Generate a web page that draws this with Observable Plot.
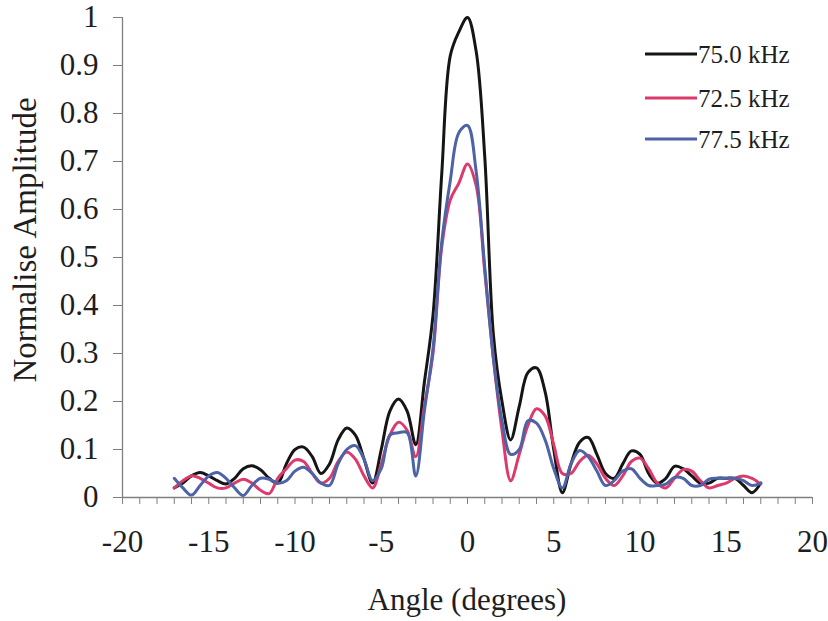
<!DOCTYPE html>
<html><head><meta charset="utf-8">
<script src="https://cdn.jsdelivr.net/npm/d3@7"></script>
<script src="https://cdn.jsdelivr.net/npm/@observablehq/plot@0.6"></script>
<style>
html,body{margin:0;padding:0;background:#fff;}
#chart{position:relative;width:828px;height:621px;}
</style></head><body><div id="chart"></div>
<script>
const angles = [-17,-16.5,-16,-15.5,-15,-14.5,-14,-13.5,-13,-12.5,-12,-11.5,-11,-10.5,-10,-9.5,-9,-8.5,-8,-7.5,-7,-6.5,-6,-5.5,-5,-4.5,-4,-3.5,-3,-2.5,-2,-1.5,-1,-0.5,0,0.5,1,1.5,2,2.5,3,3.5,4,4.5,5,5.5,6,6.5,7,7.5,8,8.5,9,9.5,10,10.5,11,11.5,12,12.5,13,13.5,14,14.5,15,15.5,16,16.5,17];
const amp750 = [0.02,0.03,0.045,0.052,0.045,0.035,0.028,0.04,0.06,0.066,0.058,0.04,0.03,0.07,0.1,0.105,0.085,0.05,0.07,0.12,0.145,0.13,0.08,0.03,0.1,0.18,0.205,0.18,0.11,0.24,0.38,0.67,0.92,0.97,1.0,0.93,0.71,0.34,0.2,0.12,0.19,0.26,0.27,0.22,0.1,0.01,0.07,0.115,0.125,0.09,0.05,0.04,0.07,0.097,0.09,0.05,0.03,0.04,0.065,0.06,0.045,0.03,0.03,0.04,0.04,0.04,0.025,0.01,0.03];
const amp725 = [0.02,0.035,0.045,0.04,0.03,0.02,0.02,0.03,0.038,0.03,0.015,0.008,0.04,0.06,0.078,0.075,0.05,0.03,0.04,0.075,0.095,0.08,0.045,0.02,0.07,0.13,0.157,0.14,0.085,0.19,0.3,0.52,0.62,0.655,0.695,0.65,0.47,0.29,0.14,0.035,0.09,0.15,0.185,0.17,0.11,0.05,0.05,0.075,0.088,0.07,0.04,0.025,0.045,0.075,0.082,0.06,0.03,0.02,0.04,0.058,0.055,0.035,0.02,0.025,0.03,0.04,0.045,0.04,0.028];
const amp775 = [0.04,0.02,0.005,0.025,0.045,0.052,0.04,0.02,0.004,0.025,0.04,0.038,0.03,0.035,0.055,0.063,0.05,0.03,0.025,0.07,0.1,0.108,0.08,0.035,0.06,0.13,0.135,0.135,0.045,0.18,0.31,0.53,0.66,0.76,0.775,0.68,0.48,0.29,0.16,0.09,0.1,0.16,0.155,0.12,0.06,0.02,0.07,0.098,0.085,0.055,0.025,0.035,0.055,0.06,0.04,0.025,0.025,0.028,0.042,0.04,0.025,0.025,0.038,0.04,0.04,0.04,0.035,0.025,0.03];
const seriesNames = ["75.0 kHz", "72.5 kHz", "77.5 kHz"];
const seriesColors = ["#151515", "#dc3a6c", "#4d63a6"];
const xTicks = [-20,-19,-18,-17,-16,-15,-14,-13,-12,-11,-10,-9,-8,-7,-6,-5,-4,-3,-2,-1,0,1,2,3,4,5,6,7,8,9,10,11,12,13,14,15,16,17,18,19,20];
const xLabels = [-20,-15,-10,-5,0,5,10,15,20];
const yTicks = [0,0.1,0.2,0.3,0.4,0.5,0.6,0.7,0.8,0.9,1];
const xTitle = "Angle (degrees)";
const yTitle = "Normalise Amplitude";

const seriesValues = [amp750, amp725, amp775];
const rows = [];
seriesNames.forEach((s, i) => angles.forEach((a, j) => rows.push({series: s, angle: a, amp: seriesValues[i][j]})));

const W = 828, H = 621;
const FONT = "'Liberation Serif', 'Times New Roman', serif";
const plot = Plot.plot({
  width: W, height: H,
  marginLeft: 122, marginRight: 16, marginTop: 17, marginBottom: 124,
  style: {fontFamily: FONT, fontSize: "31px", color: "#1e1e1e", background: "#fff"},
  x: {domain: [-20, 20]},
  y: {domain: [0, 1]},
  color: {domain: seriesNames, range: seriesColors},
  marks: [
    Plot.ruleY([0], {stroke: "#808080", strokeWidth: 1.3}),
    Plot.ruleX([-20], {stroke: "#808080", strokeWidth: 1.3}),
    Plot.axisX({ticks: xTicks, tickFormat: d => xLabels.includes(d) ? String(d) : "", tickSize: 7, tickPadding: 25, stroke: "#808080", label: null}),
    Plot.axisY({ticks: yTicks, tickFormat: d => String(d), tickSize: 9, tickPadding: 15, stroke: "#808080", label: null}),
    Plot.line(rows, {x: "angle", y: "amp", z: "series", stroke: "series", strokeWidth: 3, strokeLinejoin: "round", curve: "catmull-rom"})
  ]
});
document.getElementById("chart").appendChild(plot);

const svg = d3.select(plot);
svg.append("text").attr("x", 467).attr("y", 610).attr("text-anchor", "middle")
  .attr("font-size", 31).attr("fill", "#1e1e1e").text(xTitle);
svg.append("text").attr("transform", "translate(36,240) rotate(-90)").attr("text-anchor", "middle")
  .attr("font-size", 33).attr("fill", "#1e1e1e").text(yTitle);

const legendY = [54, 98, 139];
const lg = svg.append("g").attr("class", "legend").attr("text-anchor", "start");
seriesNames.forEach((s, i) => {
  lg.append("line").attr("x1", 645).attr("x2", 697).attr("y1", legendY[i]).attr("y2", legendY[i])
    .attr("stroke", seriesColors[i]).attr("stroke-width", 3);
  lg.append("text").attr("x", 698).attr("y", legendY[i] + 8.5).attr("font-size", 25)
    .attr("text-anchor", "start").attr("fill", "#1e1e1e").text(s);
});
</script></body></html>
